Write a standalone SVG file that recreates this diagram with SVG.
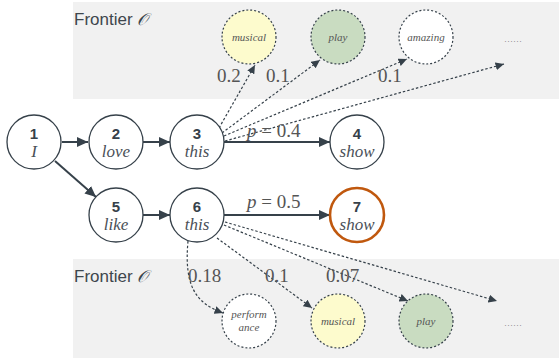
<svg xmlns="http://www.w3.org/2000/svg" width="559" height="358" viewBox="0 0 559 358">
<defs>
<marker id="ah" markerUnits="userSpaceOnUse" markerWidth="12" markerHeight="10" refX="11" refY="5" orient="auto">
<path d="M0,0 L11,5 L0,10 Z" fill="#36414a"/>
</marker>
<marker id="ahs" markerUnits="userSpaceOnUse" markerWidth="9" markerHeight="8" refX="8.5" refY="4" orient="auto">
<path d="M0,0 L8.5,4 L0,8 Z" fill="#36414a"/>
</marker>
<style>
.band{fill:#f1f1f1}
.node{fill:#fff;stroke:#36414a;stroke-width:1.3}
.fn{stroke:#36414a;stroke-width:1.2;stroke-dasharray:2 2}
.num{font-family:"Liberation Sans",Arial,sans-serif;font-weight:bold;font-size:15px;fill:#36414a;text-anchor:middle}
.word{font-family:"Liberation Serif","Times New Roman",serif;font-style:italic;font-size:17px;fill:#4a5058;text-anchor:middle}
.fw{font-family:"Liberation Serif","Times New Roman",serif;font-style:italic;font-size:11px;fill:#555;text-anchor:middle}
.lbl{font-family:"Liberation Serif","Times New Roman",serif;font-size:19px;fill:#555}
.frt{font-family:"Liberation Sans",Arial,sans-serif;font-size:17px;fill:#3e464d}
.solid{stroke:#36414a;stroke-width:2;fill:none;marker-end:url(#ah)}
.dot{stroke:#36414a;stroke-width:1.2;stroke-dasharray:2.5 2;fill:none;marker-end:url(#ahs)}
.dots{font-family:"Liberation Serif",serif;font-size:9px;fill:#777;text-anchor:middle}
</style>
</defs>
<rect class="band" x="73" y="2" width="486" height="97"/>
<rect class="band" x="73" y="259" width="486" height="99"/>
<text class="frt" x="74" y="25">Frontier <tspan font-family="'Liberation Serif',serif" font-style="italic">𝒪</tspan></text>
<text class="frt" x="74" y="282">Frontier <tspan font-family="'Liberation Serif',serif" font-style="italic">𝒪</tspan></text>

<g id="connectors">
<path class="solid" d="M62,142 L88,142"/>
<path class="solid" d="M143,142 L170,142"/>
<path class="solid" d="M55,161 L96,197"/>
<path class="solid" d="M143,215 L170,215"/>
<path class="solid" d="M224,142 L330,142"/>
<path class="solid" d="M224,215 L330,215"/>
<path class="dot" d="M219,128 L255,65"/>
<path class="dot" d="M222,133 L320,60"/>
<path class="dot" d="M224,136 L407,59"/>
<path class="dot" d="M225,141 L504,64"/>
<path class="dot" d="M188,241 C184,285 195,303 223,313"/>
<path class="dot" d="M217,238 L312,308"/>
<path class="dot" d="M224,225 L408,301"/>
<path class="dot" d="M225,222 L497,301"/>
</g>

<text class="lbl" x="217" y="82">0.2</text>
<text class="lbl" x="266" y="82">0.1</text>
<text class="lbl" x="378" y="82">0.1</text>
<text class="lbl" x="188" y="282">0.18</text>
<text class="lbl" x="265" y="282">0.1</text>
<text class="lbl" x="326" y="282">0.07</text>
<text class="lbl" x="247" y="137" font-size="20" fill="#454c54"><tspan font-style="italic">p</tspan> = 0.4</text>
<text class="lbl" x="247" y="208" font-size="20" fill="#454c54"><tspan font-style="italic">p</tspan> = 0.5</text>

<g id="n1"><circle class="node" cx="34" cy="142" r="27"/><text class="num" x="34" y="139">1</text><text class="word" x="34" y="157">I</text></g>
<g id="n2"><circle class="node" cx="116" cy="142" r="27"/><text class="num" x="116" y="139">2</text><text class="word" x="116" y="157">love</text></g>
<g id="n3"><circle class="node" cx="197" cy="142" r="27"/><text class="num" x="197" y="139">3</text><text class="word" x="197" y="157">this</text></g>
<g id="n4"><circle class="node" cx="357" cy="142" r="27"/><text class="num" x="357" y="139">4</text><text class="word" x="357" y="157">show</text></g>
<g id="n5"><circle class="node" cx="116" cy="215" r="27"/><text class="num" x="116" y="212">5</text><text class="word" x="116" y="230">like</text></g>
<g id="n6"><circle class="node" cx="197" cy="215" r="27"/><text class="num" x="197" y="212">6</text><text class="word" x="197" y="230">this</text></g>
<g id="n7"><circle cx="357" cy="215" r="27" fill="#fff" stroke="#c0580e" stroke-width="2.6"/><text class="num" x="357" y="212">7</text><text class="word" x="357" y="230">show</text></g>

<g id="t_musical"><circle class="fn" cx="249" cy="37" r="27" fill="#fdfbcd"/><text class="fw" x="249" y="41">musical</text></g>
<g id="t_play"><circle class="fn" cx="338" cy="37" r="27" fill="#c9dcc1"/><text class="fw" x="338" y="41">play</text></g>
<g id="t_amazing"><circle class="fn" cx="426" cy="37" r="27" fill="#fff"/><text class="fw" x="426" y="41">amazing</text></g>
<text class="dots" x="513" y="42">……</text>

<g id="b_performance"><circle class="fn" cx="249" cy="321" r="27" fill="#fff"/><text class="fw" x="249" y="318">perform</text><text class="fw" x="249" y="331">ance</text></g>
<g id="b_musical"><circle class="fn" cx="338" cy="321" r="27" fill="#fdfbcd"/><text class="fw" x="338" y="325">musical</text></g>
<g id="b_play"><circle class="fn" cx="426" cy="321" r="27" fill="#c9dcc1"/><text class="fw" x="426" y="325">play</text></g>
<text class="dots" x="513" y="326">……</text>
</svg>
